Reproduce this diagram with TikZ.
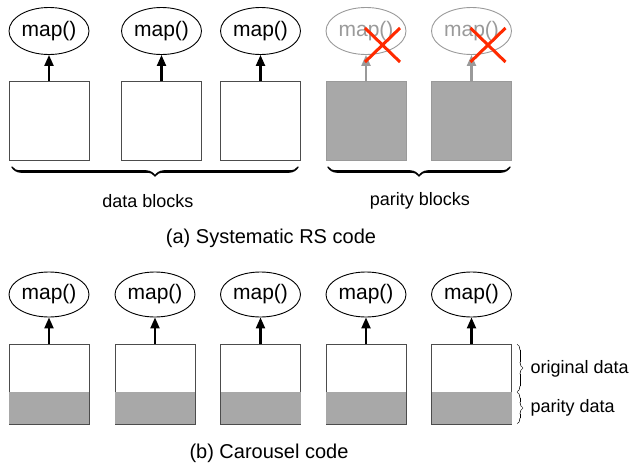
\documentclass[tikz,border=0pt]{standalone}
\usepackage{fontspec}
\setmainfont{Liberation Sans}
\usetikzlibrary{shapes.geometric,arrows.meta,decorations.pathreplacing,calligraphy}
\definecolor{blockgray}{HTML}{A8A8A8}
\definecolor{fadegray}{HTML}{9A9A9A}
\definecolor{crossred}{HTML}{FF2A00}
\tikzset{
  mapnode/.style={ellipse,draw=black,line width=0.9pt,minimum width=80pt,minimum height=47pt,inner sep=0pt,
    font=\fontsize{21}{24}\selectfont},
  deadmap/.style={mapnode,draw=fadegray,text=fadegray},
  datablock/.style={rectangle,draw=black!70,line width=0.9pt,fill=white,minimum width=80pt,minimum height=79pt,inner sep=0pt},
  paritybox/.style={datablock,draw=fadegray,fill=blockgray},
  cblock/.style={datablock,minimum height=80pt},
  feed/.style={line width=2.2pt,-{Triangle[length=11pt,width=9pt]}},
  deadfeed/.style={feed,draw=fadegray},
  bigbrace/.style={decorate,decoration={calligraphic brace,mirror,amplitude=9pt},line width=2.6pt},
  smallbrace/.style={decorate,decoration={calligraphic brace,amplitude=6pt},line width=0.7pt},
  lbl/.style={font=\fontsize{18}{21}\selectfont},
  captxt/.style={font=\fontsize{20}{24}\selectfont},
  cross/.style={draw=crossred,line width=3pt}
}
\begin{document}
\begin{tikzpicture}[x=1pt,y=-1pt]
\useasboundingbox (0,0) rectangle (633,466);

% (a) systematic RS code: data blocks
\foreach \i/\x in {1/49,2/161.5,3/260.5}{
  \node[datablock] (ad\i) at (\x,120.5) {};
  \node[mapnode] (am\i) at (\x,31) {map()};
  \draw[feed] (ad\i.north) -- (am\i.south);
}
% parity blocks, whose map tasks are struck out
\foreach \i/\x in {1/366,2/471.5}{
  \node[paritybox] (ap\i) at (\x,120.5) {};
  \node[deadmap] (apm\i) at (\x,31) {map()};
  \draw[deadfeed] (ap\i.north) -- (apm\i.south);
  \draw[cross] ([shift={(-1,-3)}]apm\i.center) -- ([shift={(34,31)}]apm\i.center)
               ([shift={(34,-3)}]apm\i.center) -- ([shift={(-1,31)}]apm\i.center);
}
% braces and labels
\coordinate (dbl) at (12,167);
\coordinate (dbr) at (298,167);
\coordinate (pbl) at (328,167);
\coordinate (pbr) at (510,167);
\draw[bigbrace] (dbl) -- (dbr);
\draw[bigbrace] (pbl) -- (pbr);
\node[lbl] (dlab) at (148,201) {data blocks};
\node[lbl] (plab) at (420,201) {parity blocks};
\node[captxt] (capa) at (271,238) {(a) Systematic RS code};

% (b) Carousel code: every block holds original and parity data
\foreach \i/\x in {1/49,2/155,3/260.5,4/366,5/471.5}{
  \node[cblock] (b\i) at (\x,384) {};
  \fill[blockgray] ([shift={(0.45,0)}]b\i.south west) rectangle ([shift={(-0.45,-32)}]b\i.south east);
  \node[mapnode,minimum height=45pt] (bm\i) at (\x,294.5) {map()};
  \draw[feed] (b\i.north) -- (bm\i.south);
}
\coordinate (ot) at (517,344);
\coordinate (om) at (517,392);
\coordinate (ob) at (517,424);
\draw[smallbrace] (ot) -- (om);
\draw[smallbrace] (om) -- (ob);
\node[lbl,anchor=west] (olab) at (527,369) {original data};
\node[lbl,anchor=west] (pdlab) at (527,408) {parity data};
\node[captxt] (capb) at (269,453) {(b) Carousel code};
\end{tikzpicture}
\end{document}
